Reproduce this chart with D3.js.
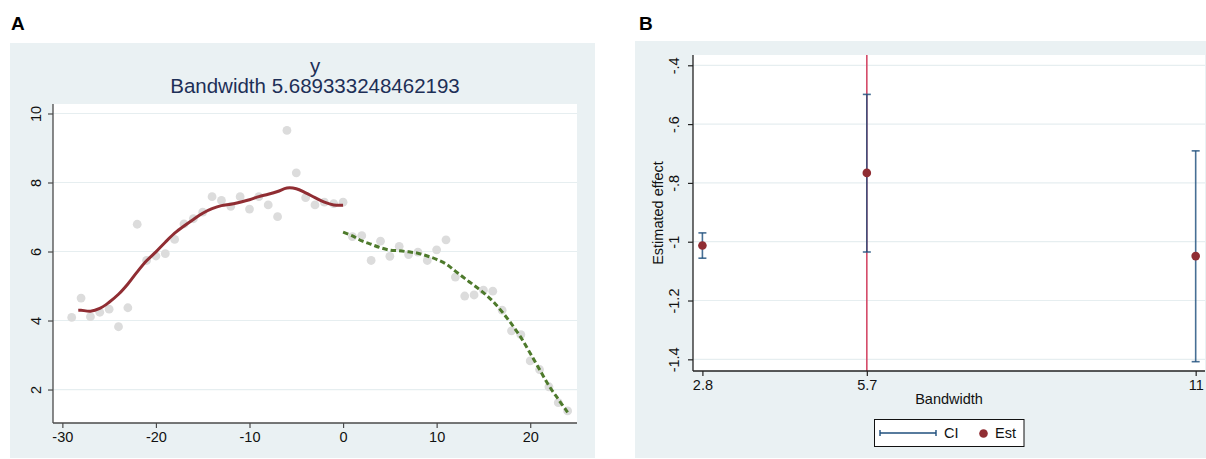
<!DOCTYPE html>
<html><head><meta charset="utf-8">
<script src="https://cdn.jsdelivr.net/npm/d3@7"></script>
<style>
html,body{margin:0;padding:0;background:#fff;}
text{font-family:"Liberation Sans",Arial,Helvetica,sans-serif;}
</style></head>
<body>
<svg id="chart" width="1206" height="459"></svg>
<script>
// ---------- Panel A data ----------
const scatterX = [-29,-28,-27,-26,-25,-24,-23,-22,-21,-20,-19,-18,-17,-16,-15,-14,-13,-12,-11,-10,-9,-8,-7,-6,-5,-4,-3,-2,-1,0,
  1,2,3,4,5,6,7,8,9,10,11,12,13,14,15,16,17,18,19,20,21,22,23,24];
const scatterY = [4.09,4.65,4.11,4.24,4.33,3.82,4.37,6.79,5.74,5.87,5.94,6.35,6.80,6.95,7.14,7.59,7.48,7.31,7.59,7.23,7.59,7.35,7.01,9.51,8.28,7.56,7.35,7.43,7.39,7.43,
  6.43,6.46,5.74,6.30,5.86,6.15,5.91,5.98,5.74,6.05,6.34,5.26,4.71,4.74,4.88,4.85,4.30,3.70,3.59,2.83,2.58,2.08,1.62,1.38];
const fitLeftX = [-28.3,-28,-27,-26,-25,-24,-23,-22,-21,-20,-19,-18,-17,-16,-15,-14,-13,-12,-11,-10,-9,-8,-7,-6,-5,-4,-3,-2,-1,0];
const fitLeftY = [4.30,4.30,4.27,4.35,4.53,4.76,5.06,5.41,5.73,5.99,6.27,6.53,6.74,6.93,7.11,7.24,7.33,7.37,7.43,7.50,7.59,7.66,7.74,7.84,7.82,7.70,7.56,7.43,7.35,7.34];
const fitRightX = [0,1,2,3,4,5,6,7,8,9,10,11,12,13,14,15,16,17,18,19,20,21,22,23,24];
const fitRightY = [6.56,6.45,6.31,6.21,6.11,6.04,6.02,5.99,5.95,5.87,5.77,5.64,5.43,5.22,5.02,4.81,4.56,4.25,3.90,3.51,3.05,2.58,2.11,1.72,1.34];
const xTicksA = [-30,-20,-10,0,10,20];
const yTicksA = [2,4,6,8,10];
const titleA1 = "y";
const titleA2 = "Bandwidth 5.689333248462193";

// ---------- Panel B data ----------
const bwValues = [2.8447, 5.6893, 11.3787];
const bwLabels = ["2.8","5.7","11"];
const estimates = [-1.013, -0.766, -1.049];
const ciLow = [-1.056, -1.035, -1.408];
const ciHigh = [-0.970, -0.499, -0.691];
const chosenBw = 5.6893;
const yTicksB = [-0.4,-0.6,-0.8,-1,-1.2,-1.4];
const yTickLabelsB = ["-.4","-.6","-.8","-1","-1.2","-1.4"];
const legendLabels = ["CI","Est"];

const svg = d3.select("#chart");
const BG = "#eaf1f3", GRID = "#e6eef0", AXIS = "#4a4a4a", TXT = "#111";
const RED = "#902d33", GREEN = "#4e7a2c", NAVY = "#1f4f7d", PINK = "#d44a68", TITLE = "#1d2f57";

// Panel labels
svg.append("text").attr("x",11).attr("y",30).attr("font-size",19).attr("font-weight","bold").attr("fill","#000").text("A");
svg.append("text").attr("x",639).attr("y",30).attr("font-size",19).attr("font-weight","bold").attr("fill","#000").text("B");

// ================= Panel A =================
svg.append("rect").attr("x",10).attr("y",43).attr("width",585).attr("height",415).attr("fill",BG);
const pA = {l:53, r:577, t:104, b:423};
svg.append("rect").attr("x",pA.l).attr("y",pA.t).attr("width",pA.r-pA.l).attr("height",pA.b-pA.t).attr("fill","#fff");
const xA = d3.scaleLinear().domain([-31,25]).range([pA.l,pA.r]);
const yA = d3.scaleLinear().domain([1.03,10.275]).range([pA.b,pA.t]);

const gA = svg.append("g");
gA.selectAll("line.grid").data(yTicksA).join("line")
  .attr("x1",pA.l).attr("x2",pA.r).attr("y1",d=>yA(d)).attr("y2",d=>yA(d))
  .attr("stroke",GRID).attr("stroke-width",1.2);

// titles
svg.append("text").attr("x",(pA.l+pA.r)/2).attr("y",73).attr("text-anchor","middle").attr("font-size",20.5).attr("fill",TITLE).text(titleA1);
svg.append("text").attr("x",(pA.l+pA.r)/2).attr("y",93).attr("text-anchor","middle").attr("font-size",20.5).attr("fill",TITLE).text(titleA2);

// scatter
gA.selectAll("circle.pt").data(scatterX.map((x,i)=>[x,scatterY[i]])).join("circle")
  .attr("cx",d=>xA(d[0])).attr("cy",d=>yA(d[1])).attr("r",4.4).attr("fill","#dcdcdc");

const lineA = d3.line().x(d=>xA(d[0])).y(d=>yA(d[1])).curve(d3.curveCatmullRom);
gA.append("path").datum(fitLeftX.map((x,i)=>[x,fitLeftY[i]])).attr("d",lineA)
  .attr("fill","none").attr("stroke",RED).attr("stroke-width",3);
gA.append("path").datum(fitRightX.map((x,i)=>[x,fitRightY[i]])).attr("d",lineA)
  .attr("fill","none").attr("stroke",GREEN).attr("stroke-width",3).attr("stroke-dasharray","5.5,3");

// axes A
const fmtPlain = d => String(d);
const axA_x = d3.axisBottom(xA).tickValues(xTicksA).tickSize(5).tickPadding(4).tickFormat(fmtPlain);
const gxA = svg.append("g").attr("transform",`translate(0,${pA.b})`).call(axA_x);
const axA_y = d3.axisLeft(yA).tickValues(yTicksA).tickSize(5).tickPadding(4).tickFormat(fmtPlain);
const gyA = svg.append("g").attr("transform",`translate(${pA.l},0)`).call(axA_y);
[gxA,gyA].forEach(g=>{
  g.select(".domain").attr("stroke",AXIS).attr("stroke-width",1.3);
  g.selectAll(".tick line").attr("stroke",AXIS).attr("stroke-width",1.2);
  g.selectAll(".tick text").attr("fill",TXT).attr("font-size",14.5).attr("font-family","Liberation Sans, Arial, sans-serif");
});
gxA.select(".domain").attr("d",`M${pA.l},0H${pA.r}`);
gyA.select(".domain").attr("d",`M0,${pA.b}V${pA.t}`);
gyA.selectAll(".tick text").attr("text-anchor","middle").attr("x",0).attr("dy",0)
  .attr("transform","translate(-16,0) rotate(-90)").attr("y",0).attr("dominant-baseline","middle");

// ================= Panel B =================
svg.append("rect").attr("x",635).attr("y",41).attr("width",571).attr("height",417).attr("fill",BG);
const pB = {l:693, r:1205, t:55, b:371};
svg.append("rect").attr("x",pB.l).attr("y",pB.t).attr("width",pB.r-pB.l).attr("height",pB.b-pB.t).attr("fill","#fff");
const xB = d3.scaleLinear().domain([2.682,11.54]).range([pB.l,pB.r]);
const yB = d3.scaleLinear().domain([-1.4397,-0.365]).range([pB.b,pB.t]);

const gB = svg.append("g");
gB.selectAll("line.grid").data(yTicksB).join("line")
  .attr("x1",pB.l).attr("x2",pB.r).attr("y1",d=>yB(d)).attr("y2",d=>yB(d))
  .attr("stroke",GRID).attr("stroke-width",1.2);

// chosen bandwidth line
gB.append("line").attr("x1",xB(chosenBw)).attr("x2",xB(chosenBw)).attr("y1",pB.t).attr("y2",pB.b)
  .attr("stroke",PINK).attr("stroke-width",1.6);

// CIs
const ciData = bwValues.map((x,i)=>({x, lo:ciLow[i], hi:ciHigh[i], est:estimates[i]}));
const ciG = gB.selectAll("g.ci").data(ciData).join("g").attr("stroke",NAVY).attr("stroke-width",1.6).attr("stroke-opacity",0.82);
ciG.append("line").attr("x1",d=>xB(d.x)).attr("x2",d=>xB(d.x)).attr("y1",d=>yB(d.lo)).attr("y2",d=>yB(d.hi));
ciG.append("line").attr("x1",d=>xB(d.x)-4).attr("x2",d=>xB(d.x)+4).attr("y1",d=>yB(d.lo)).attr("y2",d=>yB(d.lo));
ciG.append("line").attr("x1",d=>xB(d.x)-4).attr("x2",d=>xB(d.x)+4).attr("y1",d=>yB(d.hi)).attr("y2",d=>yB(d.hi));
gB.selectAll("circle.est").data(ciData).join("circle")
  .attr("cx",d=>xB(d.x)).attr("cy",d=>yB(d.est)).attr("r",4.3).attr("fill",RED);

// axes B
const axB_x = d3.axisBottom(xB).tickValues(bwValues).tickSize(5).tickPadding(4).tickFormat((d,i)=>bwLabels[i]);
const gxB = svg.append("g").attr("transform",`translate(0,${pB.b})`).call(axB_x);
const axB_y = d3.axisLeft(yB).tickValues(yTicksB).tickSize(5).tickPadding(4).tickFormat((d,i)=>yTickLabelsB[i]);
const gyB = svg.append("g").attr("transform",`translate(${pB.l},0)`).call(axB_y);
[gxB,gyB].forEach(g=>{
  g.select(".domain").attr("stroke","#222").attr("stroke-width",1.3);
  g.selectAll(".tick line").attr("stroke","#222").attr("stroke-width",1.2);
  g.selectAll(".tick text").attr("fill",TXT).attr("font-size",14.5).attr("font-family","Liberation Sans, Arial, sans-serif");
});
gxB.select(".domain").attr("d",`M${pB.l},0H${pB.r}`);
gyB.select(".domain").attr("d",`M0,${pB.b}V${pB.t}`);
gyB.selectAll(".tick text").attr("text-anchor","middle").attr("x",0).attr("dy",0)
  .attr("transform","translate(-18,0) rotate(-90)").attr("y",0).attr("dominant-baseline","middle");

// axis titles
svg.append("text").attr("x",(pB.l+pB.r)/2).attr("y",404).attr("text-anchor","middle").attr("font-size",14.5).attr("fill",TXT).text("Bandwidth");
svg.append("text").attr("transform",`translate(663,${(pB.t+pB.b)/2}) rotate(-90)`).attr("text-anchor","middle").attr("font-size",14.5).attr("fill",TXT).text("Estimated effect");

// legend
const lg = svg.append("g");
lg.append("rect").attr("x",874.5).attr("y",419.5).attr("width",149.5).attr("height",27).attr("fill","#fff").attr("stroke","#111").attr("stroke-width",1);
const ly = 433;
lg.append("line").attr("x1",880).attr("x2",936).attr("y1",ly).attr("y2",ly).attr("stroke",NAVY).attr("stroke-width",1.4);
lg.append("line").attr("x1",880).attr("x2",880).attr("y1",ly-3).attr("y2",ly+3).attr("stroke",NAVY).attr("stroke-width",1.4);
lg.append("line").attr("x1",936).attr("x2",936).attr("y1",ly-3).attr("y2",ly+3).attr("stroke",NAVY).attr("stroke-width",1.4);
lg.append("text").attr("x",944).attr("y",438).attr("font-size",14.5).attr("fill",TXT).text(legendLabels[0]);
lg.append("circle").attr("cx",983.5).attr("cy",ly+0.5).attr("r",4.3).attr("fill",RED);
lg.append("text").attr("x",995).attr("y",438).attr("font-size",14.5).attr("fill",TXT).text(legendLabels[1]);
</script>
</body></html>
